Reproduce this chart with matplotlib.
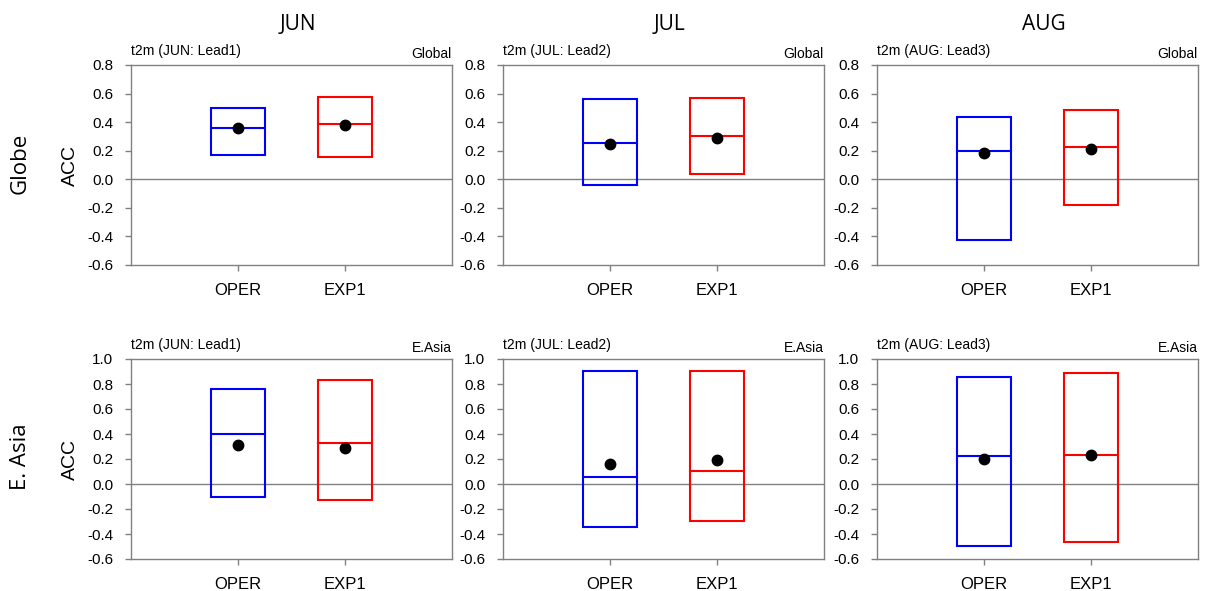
import matplotlib
matplotlib.use("Agg")
import matplotlib.pyplot as plt
from matplotlib.patches import Rectangle

months = ["JUN", "JUL", "AUG"]
leads = ["Lead1", "Lead2", "Lead3"]
regions = ["Global", "E.Asia"]
row_names = ["Globe", "E. Asia"]
models = ["OPER", "EXP1"]
colors = ["#0000ff", "#ff0000"]

# [month][model] values: low, high, median, mean
glob_low = [[0.168, 0.159], [-0.038, 0.038], [-0.428, -0.180]]
glob_high = [[0.496, 0.575], [0.562, 0.572], [0.437, 0.487]]
glob_med = [[0.360, 0.384], [0.252, 0.306], [0.201, 0.229]]
glob_mean = [[0.360, 0.380], [0.250, 0.287], [0.185, 0.215]]

easia_low = [[-0.107, -0.129], [-0.340, -0.292], [-0.499, -0.464]]
easia_high = [[0.759, 0.836], [0.906, 0.906], [0.855, 0.885]]
easia_med = [[0.397, 0.330], [0.054, 0.107], [0.222, 0.231]]
easia_mean = [[0.316, 0.290], [0.164, 0.190], [0.198, 0.231]]

lows = [glob_low, easia_low]
highs = [glob_high, easia_high]
meds = [glob_med, easia_med]
means = [glob_mean, easia_mean]
ylims = [(-0.6, 0.8), (-0.6, 1.0)]

W, H = 1205, 591
fig = plt.figure(figsize=(W / 100, H / 100), dpi=100)

col_left = [131, 503, 877]
col_width = 321
row_top = [65, 359]
row_height = 200
frame = "#808080"
tick_font = ["Liberation Sans", "DejaVu Sans"]
label_font = ["Open Sans", "DejaVu Sans"]

for r in range(2):
    for c in range(3):
        x0 = col_left[c]
        y0 = row_top[r]
        ax = fig.add_axes([x0 / W, (H - y0 - row_height) / H,
                           col_width / W, row_height / H])
        ax.set_xlim(0, 3)
        ax.set_ylim(*ylims[r])
        lo, hi = ylims[r]
        ticks = [round(lo + 0.2 * i, 1) for i in range(int(round((hi - lo) / 0.2)) + 1)]
        ax.set_yticks(ticks)
        ax.set_yticklabels([f"{t:.1f}" for t in ticks], fontfamily=tick_font, fontsize=11)
        ax.set_xticks([1, 2])
        ax.set_xticklabels(models, fontfamily=tick_font, fontsize=12)
        ax.tick_params(axis="both", direction="out", length=4.3, width=1,
                       color=frame, pad=8.5)
        for side in ["top", "right", "left", "bottom"]:
            ax.spines[side].set_color(frame)
            ax.spines[side].set_linewidth(1)
        ax.axhline(0, color=frame, lw=1, zorder=1)

        for m in range(2):
            xc = m + 1
            low = lows[r][c][m]
            high = highs[r][c][m]
            ax.add_patch(Rectangle((xc - 0.25, low), 0.5, high - low, fill=False,
                                   edgecolor=colors[m], lw=1.5, zorder=3))
            ax.plot([xc - 0.25, xc + 0.25], [meds[r][c][m]] * 2,
                    color=colors[m], lw=1.5, zorder=3)
            ax.plot([xc], [means[r][c][m]], "o", color="black", ms=7.5, zorder=4)

        ax.text(0, 1.035, f"t2m ({months[c]}: {leads[c]})", transform=ax.transAxes,
                ha="left", va="bottom", fontsize=10, fontfamily=tick_font)
        ax.text(1, 1.02, regions[r], transform=ax.transAxes,
                ha="right", va="bottom", fontsize=10, fontfamily=tick_font)

        if c == 0:
            ax.set_ylabel("ACC", fontfamily=tick_font, fontsize=14, labelpad=6)
            fig.text(20 / W, 1 - (y0 + row_height / 2 - 2) / H, row_names[r],
                     rotation=90, ha="center", va="center",
                     fontsize=16, fontfamily=label_font)
        if r == 0:
            fig.text((x0 + col_width / 2 + 6) / W, 1 - 24 / H, months[c],
                     ha="center", va="center", fontsize=15, fontfamily=label_font)

fig.savefig("out.png", dpi=100, facecolor="white")
